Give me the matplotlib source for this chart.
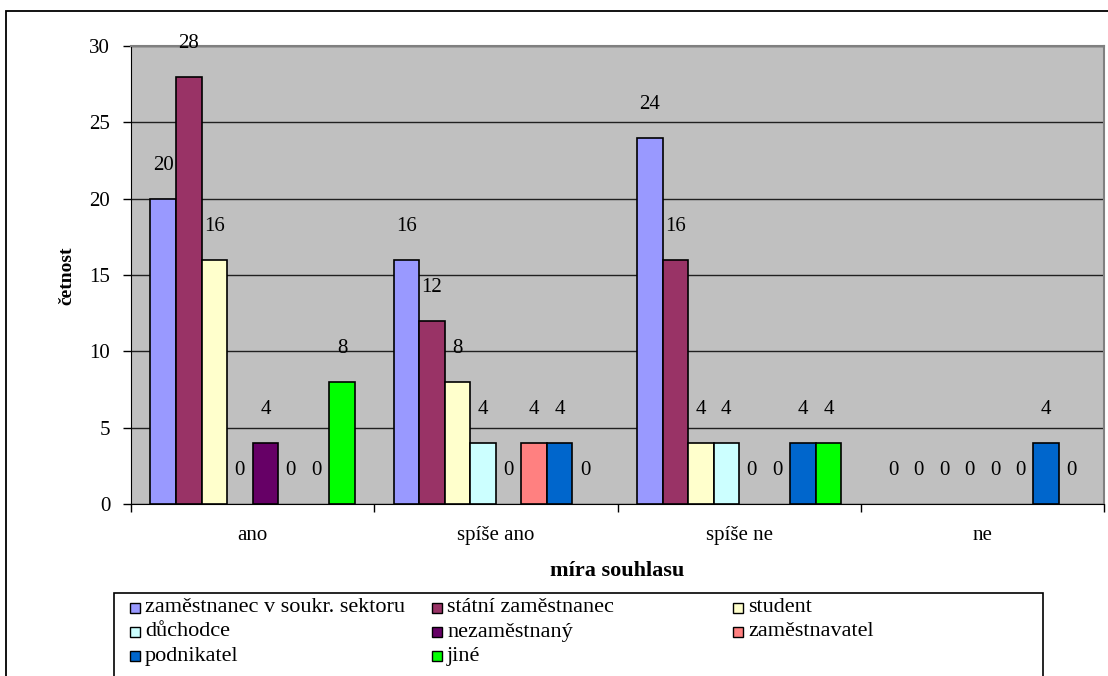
import matplotlib
matplotlib.use("Agg")
import matplotlib.pyplot as plt
from matplotlib.patches import Rectangle
import numpy as np

plt.rcParams['font.family'] = ['Liberation Serif', 'DejaVu Serif']

categories = ["ano", "spíše ano", "spíše ne", "ne"]
series_names = [
    "zaměstnanec v soukr. sektoru",
    "státní zaměstnanec",
    "student",
    "důchodce",
    "nezaměstnaný",
    "zaměstnavatel",
    "podnikatel",
    "jiné",
]
soukr_sektor = [20, 16, 24, 0]
statni = [28, 12, 16, 0]
student = [16, 8, 4, 0]
duchodce = [0, 4, 4, 0]
nezamestnany = [4, 0, 0, 0]
zamestnavatel = [0, 4, 0, 0]
podnikatel = [0, 4, 4, 4]
jine = [8, 0, 4, 0]
values = [soukr_sektor, statni, student, duchodce, nezamestnany,
          zamestnavatel, podnikatel, jine]
colors = ["#9999FF", "#993366", "#FFFFCC", "#CCFFFF",
          "#660066", "#FF8080", "#0066CC", "#00FF00"]
y_ticks = [0, 5, 10, 15, 20, 25, 30]

W, H = 1108, 676
fig = plt.figure(figsize=(W / 100, H / 100), dpi=100)

# outer chart frame
fig.patches.append(Rectangle((6 / W, -0.1), 1.2, 1 - 11 / H + 0.1,
                             transform=fig.transFigure, fill=False,
                             edgecolor="black", linewidth=1.3))

ax = fig.add_axes([131 / W, 1 - 504 / H, (1104 - 131) / W, (504 - 46) / H])
ax.set_facecolor("#C0C0C0")

n = len(values)
bw = 0.105
x = np.arange(len(categories))
start = -bw * n / 2
for i, (vals, col) in enumerate(zip(values, colors)):
    pos = x + start + bw * (i + 0.5)
    lw = [1.2 if v > 0 else 0 for v in vals]
    ax.bar(pos, vals, width=bw, color=col, edgecolor="black",
           linewidth=lw, zorder=3)
    for px, v in zip(pos, vals):
        ax.annotate(f"{v}", (px, v), xytext=(0, 24), textcoords="offset points",
                    ha="center", va="center", fontsize=15, zorder=4)

ax.set_xlim(-0.5, len(categories) - 0.5)
ax.set_ylim(0, 30)
ax.set_yticks(y_ticks)
ax.yaxis.grid(True, color="#202020", linewidth=1.0, zorder=1)
ax.set_axisbelow(True)
ax.tick_params(axis="y", direction="out", length=6, width=1, pad=9, labelsize=15)

ax.set_xticks(np.arange(len(categories) + 1) - 0.5)
ax.set_xticklabels([])
ax.tick_params(axis="x", which="major", direction="out", length=6, width=1)
ax.set_xticks(x, minor=True)
ax.set_xticklabels(categories, minor=True, fontsize=15)
ax.tick_params(axis="x", which="minor", length=0, pad=16)

for side in ("top", "right"):
    ax.spines[side].set_color("#808080")
    ax.spines[side].set_linewidth(1.5)
ax.spines["left"].set_color("black")
ax.spines["bottom"].set_color("black")

fig.text(67 / W, 1 - 276 / H, "četnost", rotation=90, ha="center", va="center",
         fontsize=14, fontweight="bold")
fig.text(617 / W, 1 - 571 / H, "míra souhlasu", ha="center", va="center",
         fontsize=16, fontweight="bold")

# legend box with three evenly spaced columns
fig.patches.append(Rectangle((114 / W, -0.1), (1043 - 114) / W, 1 - 593 / H + 0.1,
                             transform=fig.transFigure, facecolor="white",
                             edgecolor="black", linewidth=1.2))
col_x = [130, 432, 733]
row_y = [608, 632, 656]
sq = 10
for i, (name, col) in enumerate(zip(series_names, colors)):
    cx = col_x[i % 3]
    cy = row_y[i // 3]
    fig.patches.append(Rectangle((cx / W, (H - cy - sq / 2) / H), sq / W, sq / H,
                                 transform=fig.transFigure, facecolor=col,
                                 edgecolor="black", linewidth=1.0))
    fig.text((cx + sq + 5) / W, 1 - cy / H, name, ha="left", va="center",
             fontsize=16)

fig.savefig("out.png", dpi=100)
